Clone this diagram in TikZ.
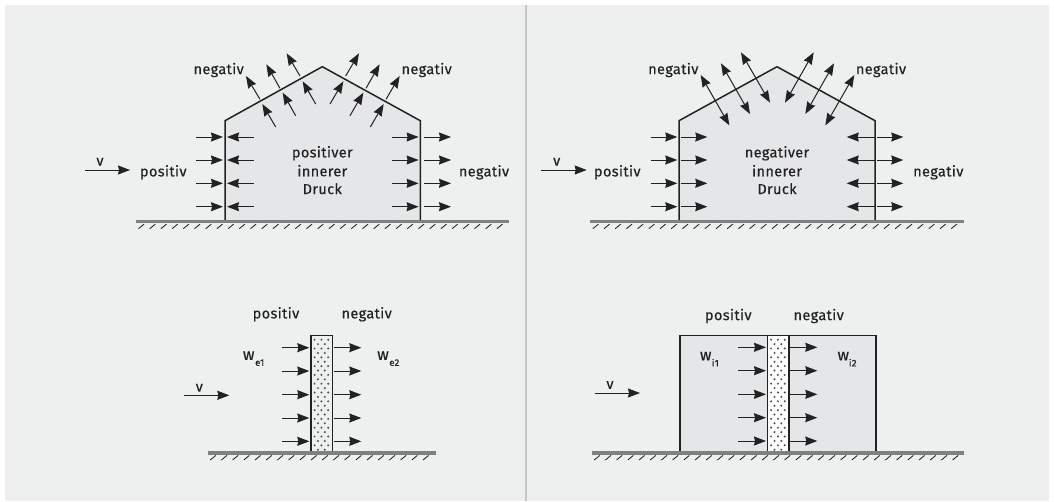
\documentclass[tikz,border=0pt]{standalone}
\usepackage{fontspec}
\setmainfont[FakeBold=0.35,LetterSpace=2.5]{Fira Sans}
\usetikzlibrary{arrows.meta}
\definecolor{panel}{HTML}{EEF0F0}
\definecolor{hall}{HTML}{E5E6E8}
\definecolor{ink}{HTML}{222222}
\definecolor{groundc}{HTML}{7F8181}
\definecolor{divc}{HTML}{C4C6C6}
\tikzset{
  flow/.style={draw=ink,line width=1pt,-{Stealth[length=12pt,width=9pt,inset=1pt]}},
  both/.style={draw=ink,line width=1pt,{Stealth[length=12pt,width=9pt,inset=1pt]}-{Stealth[length=12pt,width=9pt,inset=1pt]}},
  wall/.style={draw=ink,line width=1.5pt,line join=miter},
  lab/.style={inner sep=0pt,text=ink,font=\fontsize{14.5}{14.5}\selectfont},
  wlab/.style={inner sep=0pt,text=ink,font=\fontsize{16}{16}\selectfont},
  sublab/.style={inner sep=0pt,text=ink,font=\fontsize{9.5}{9.5}\selectfont},
  groundl/.style={draw=groundc,line width=3.4pt},
  hatchl/.style={draw=ink,line width=0.85pt}
}
\newcommand{\groundline}[3]{% x1, x2, y
  \draw[groundl] (#1,#3) -- (#2,#3);
  \pgfmathsetmacro{\gs}{#1+2.5}
  \pgfmathsetmacro{\gn}{\gs+11.2}
  \pgfmathsetmacro{\ge}{#2-5.5}
  \foreach \hx in {\gs,\gn,...,\ge}
    \draw[hatchl] (\hx,#3+7) -- ++(5.6,-4.6);
}
\newcommand{\stipple}[4]{% x1,x2,y1,y2
  \foreach \row in {0,...,26}{
    \pgfmathsetmacro{\ry}{#3+4+\row*4.4}
    \pgfmathsetmacro{\ro}{mod(\row,2)*3.4}
    \foreach \col in {0,1,2}{
      \pgfmathsetmacro{\rx}{#1+3.6+\ro+\col*6.8}
      \pgfmathparse{(\ry<#4-1 && \rx<#2-1.5) ? 1 : 0}
      \ifnum\pgfmathresult=1
        \fill[ink!80] (\rx,\ry) circle (1.1pt);
      \fi
    }
  }
}
\begin{document}
\begin{tikzpicture}[x=1pt,y=-1pt]
\useasboundingbox (0,0) rectangle (1054,501);
\fill[white] (0,0) rectangle (1054,501);
\fill[panel] (5,5) rectangle (1049,501);
\fill[divc] (525,5) rectangle (527,501);

% ===== left house =====
\fill[hall] (225,221) -- (225,120.7) -- (322.3,66.7) -- (420.3,120.7) -- (420.3,221) -- cycle;
\draw[wall] (225,221) -- (225,120.7) -- (322.3,66.7) -- (420.3,120.7) -- (420.3,221);
\groundline{136}{509.3}{221.7}
\foreach \ay in {137,160,183.3,206.7}{
  \draw[flow] (196,\ay) -- (223,\ay);
  \draw[flow] (254,\ay) -- (227,\ay);
  \draw[flow] (391.7,\ay) -- (418.6,\ay);
  \draw[flow] (424,\ay) -- (451,\ay);
}
\begin{scope}[shift={(70,40)},x=0.33333pt,y=-0.33333pt]
  \foreach \a/\b/\c/\d in {617/261/577/192,570/178/528/108,677/227/638/158,630/145/589/73,737/192/698/124,690/108/650/40,780/192/820/124,827/108/867/40,840/227/880/158,888/145/929/73,901/261/941/192,948/178/989/108}
    \draw[flow] (\a,\b) -- (\c,\d);
\end{scope}
\draw[flow] (84.7,170) -- (130,170);
\node[lab] (lv) at (100,161.7) {v};
\node[lab] (lnl) at (218.7,70) {negativ};
\node[lab] (lnr) at (426.7,70) {negativ};
\node[lab] (lp) at (163.3,172.3) {positiv};
\node[lab] (ln) at (484,172.3) {negativ};
\node[lab] (lt1) at (322.3,153.3) {positiver};
\node[lab] (lt2) at (322.3,170.7) {innerer};
\node[lab] (lt3) at (322.3,188.7) {Druck};

% ===== right house =====
\fill[hall] (679,221) -- (679,120.7) -- (777,66.7) -- (875,120.7) -- (875,221) -- cycle;
\draw[wall] (679,221) -- (679,120.7) -- (777,66.7) -- (875,120.7) -- (875,221);
\groundline{590.3}{964}{221.7}
\foreach \ay in {137,160,183.3,206.7}{
  \draw[flow] (650.7,\ay) -- (677.3,\ay);
  \draw[flow] (680.7,\ay) -- (707.3,\ay);
  \draw[flow] (875,\ay) -- (846.7,\ay);
  \draw[flow] (876.7,\ay) -- (903.3,\ay);
}
\begin{scope}[shift={(530,40)},x=0.33333pt,y=-0.33333pt]
  \foreach \a/\b/\c/\d in {512/105/598/256,573/70/660/222,633/37/720/188,851/37/765/188,912/70/826/222,973/105/886/256}
    \draw[both] (\a,\b) -- (\c,\d);
\end{scope}
\draw[flow] (541.3,170) -- (586.7,170);
\node[lab] (rv) at (556.7,161.7) {v};
\node[lab] (rnl) at (673.3,70) {negativ};
\node[lab] (rnr) at (881,70) {negativ};
\node[lab] (rp) at (617.3,172.3) {positiv};
\node[lab] (rn) at (938.3,172.3) {negativ};
\node[lab] (rt1) at (777,153.3) {negativer};
\node[lab] (rt2) at (777,170.7) {innerer};
\node[lab] (rt3) at (777,188.7) {Druck};

% ===== lower left wall =====
\fill[panel] (311,335.7) rectangle (332.3,453);
\stipple{311}{332.3}{335.7}{452}
\draw[wall] (311,452) -- (311,335.7) -- (332.3,335.7) -- (332.3,452);
\groundline{207.7}{436}{453}
\foreach \ay in {347.7,371,394.7,418,441.3}{
  \draw[flow] (282.3,\ay) -- (309.3,\ay);
  \draw[flow] (334,\ay) -- (361.3,\ay);
}
\draw[flow] (184,395.3) -- (229.3,395.3);
\node[lab] (bv) at (199.3,387.7) {v};
\node[lab] (bp) at (276,314.3) {positiv};
\node[lab] (bn) at (366.7,314.3) {negativ};
\node[wlab] (bw1) at (248.7,355.7) {w};
\node[sublab] (bs1) at (259.7,362.7) {e1};
\node[wlab] (bw2) at (383,355.7) {w};
\node[sublab] (bs2) at (394.3,362.7) {e2};

% ===== lower right hall =====
\fill[hall] (680,335.7) rectangle (876,452.7);
\draw[wall] (680,452) -- (680,335.7) -- (876,335.7) -- (876,452);
\fill[white] (767.5,335.7) rectangle (789,453);
\stipple{767.5}{789}{335.7}{452}
\draw[wall] (767.5,452) -- (767.5,335.7) -- (789,335.7) -- (789,452);
\groundline{591.7}{964}{453}
\foreach \ay in {347.3,370.7,394.3,417.7,441}{
  \draw[flow] (738.3,\ay) -- (766,\ay);
  \draw[flow] (790,\ay) -- (817.3,\ay);
}
\draw[flow] (594.7,393) -- (640,393);
\node[lab] (cv) at (610,385) {v};
\node[lab] (cp) at (728.3,316) {positiv};
\node[lab] (cn) at (818.7,316) {negativ};
\node[wlab] (cw1) at (705.7,356) {w};
\node[sublab] (cs1) at (715.3,362.7) {i1};
\node[wlab] (cw2) at (843.3,356) {w};
\node[sublab] (cs2) at (852.7,362.7) {i2};
\end{tikzpicture}
\end{document}
